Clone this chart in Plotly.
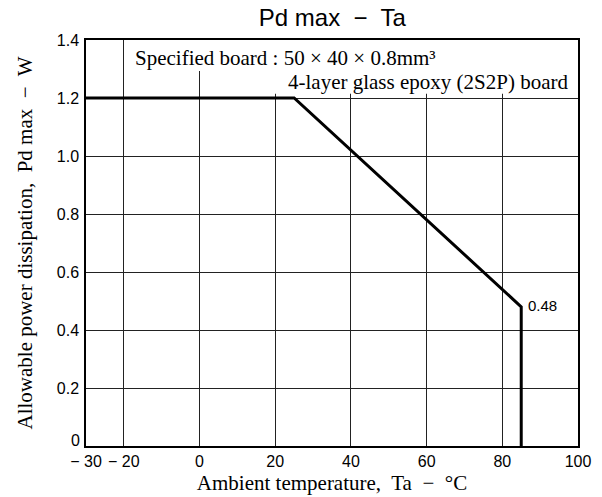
import plotly.graph_objects as go

# Data
ta_points = [-30, 25, 85, 85]
pd_points = [1.2, 1.2, 0.48, 0.0]
x_ticks = [-30, -20, 0, 20, 40, 60, 80, 100]
x_tick_labels = ["\u2212 30", "\u2212 20", "0", "20", "40", "60", "80", "100"]
y_ticks = [0, 0.2, 0.4, 0.6, 0.8, 1.0, 1.2, 1.4]
y_tick_labels = ["", "0.2", "0.4", "0.6", "0.8", "1.0", "1.2", "1.4"]
y_zero_label = "0"
end_label = "0.48"

sans = "Liberation Sans, Arial, sans-serif"
serif = "Liberation Serif, Times New Roman, serif"

fig = go.Figure()
fig.add_trace(go.Scatter(x=ta_points, y=pd_points, mode="lines",
                         line=dict(color="black", width=3), hoverinfo="skip",
                         showlegend=False))

# white boxes behind the board note (hide gridlines)
fig.add_shape(type="rect", xref="x", yref="y", x0=-18.5, x1=100, y0=1.293, y1=1.4,
              fillcolor="white", line=dict(width=0), layer="between")
fig.add_shape(type="rect", xref="x", yref="y", x0=10, x1=100, y0=1.215, y1=1.293,
              fillcolor="white", line=dict(width=0), layer="between")

fig.add_annotation(x=-17.5, y=1.338, xref="x", yref="y", xanchor="left", yanchor="middle",
                   text="Specified board : 50 \u00d7 40 \u00d7 0.8mm\u00b3", showarrow=False,
                   font=dict(family=serif, size=21, color="black"))
fig.add_annotation(x=98, y=1.255, xref="x", yref="y", xanchor="right", yanchor="middle",
                   text="4-layer glass epoxy (2S2P) board", showarrow=False,
                   font=dict(family=serif, size=21, color="black"))
fig.add_annotation(x=ta_points[2], y=pd_points[2], xref="x", yref="y", xanchor="left",
                   yanchor="middle", xshift=5, yshift=1, text=end_label, showarrow=False,
                   font=dict(family=sans, size=15, color="black"))
fig.add_annotation(x=0, y=y_ticks[0], xref="paper", yref="y", xanchor="right",
                   yanchor="middle", xshift=-4, yshift=6, text=y_zero_label, showarrow=False,
                   font=dict(family=sans, size=16, color="black"))

fig.update_layout(
    width=602, height=497,
    margin=dict(l=86, r=24, t=40, b=51, autoexpand=False),
    paper_bgcolor="white", plot_bgcolor="white",
    title=dict(text="Pd max  \u2212  Ta", x=0.552, xanchor="center", y=0.964, yanchor="middle",
               font=dict(family=sans, size=24, color="black")),
    xaxis=dict(range=[-30, 100], tickvals=x_ticks, ticktext=x_tick_labels,
               showgrid=True, gridcolor="#222", gridwidth=1, zeroline=False,
               showline=True, linecolor="black", linewidth=1.5, mirror=True,
               ticks="", automargin=False, tickfont=dict(family=sans, size=16, color="black"),
               title=dict(text="Ambient temperature,  Ta  \u2212  \u00b0C", standoff=6,
                          font=dict(family=serif, size=21, color="black"))),
    yaxis=dict(range=[0, 1.4], tickvals=y_ticks, ticktext=y_tick_labels,
               showgrid=True, gridcolor="#222", gridwidth=1, zeroline=False,
               showline=True, linecolor="black", linewidth=1.5, mirror=True,
               ticks="", automargin=False, ticklabelstandoff=2,
               tickfont=dict(family=sans, size=16, color="black"),
               title=dict(text="Allowable power dissipation,  Pd max  \u2212  W", standoff=18,
                          font=dict(family=serif, size=21, color="black"))),
)

fig.write_html("out.html", config={"displayModeBar": False},
               post_script="document.body.style.margin='0';")
